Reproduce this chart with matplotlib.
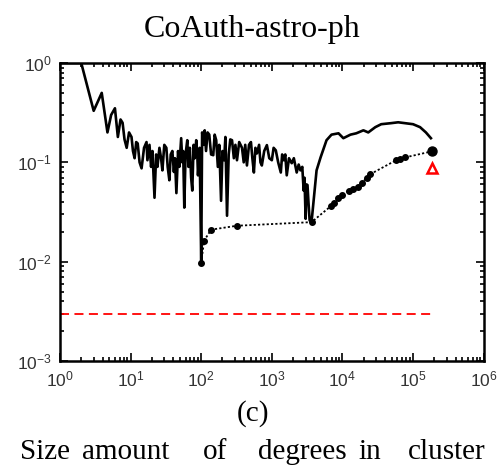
import matplotlib.pyplot as plt
import numpy as np
from matplotlib.ticker import FixedLocator, FuncFormatter, NullFormatter

plt.rcParams['font.family'] = ['Liberation Sans', 'DejaVu Sans']
plt.rcParams['mathtext.default'] = 'regular'

# solid curve (noisy)
size_solid = [1, 2.0, 3.0, 3.9, 4.7, 5.3, 6.0, 6.6, 7.2, 7.7, 8.2, 8.8, 9.5,
              10.3, 10.8, 11.4, 12.0, 12.6, 13.4, 14.3, 15.5, 16.8, 17.3, 18.5, 19.5,
              20.4, 21.8, 23, 24, 25.6, 27, 28.2, 30, 32.1, 33.5, 35.4, 37, 39, 41, 42.5,
              44.5, 47, 49, 52, 54, 55.5, 57.6, 60, 63.5, 66, 69, 72, 74.7, 78, 81, 85, 88,
              90, 95, 100,
              103, 108, 112, 117, 123, 130, 138, 148, 155, 163, 172, 180, 191, 200, 211, 220,
              232, 245, 258, 273, 290, 305, 321, 345, 378, 400, 420, 444, 475, 506, 530, 557,
              585, 615, 660, 690, 722, 780, 851, 920, 1000,
              1060, 1138, 1230, 1340, 1400, 1476, 1550, 1626, 1750, 1914, 2050, 2250, 2400,
              2540, 2700, 2822, 2900, 3010, 3100, 3200, 3300, 3430, 3650,
              4035, 4300, 4900, 5950, 7000, 8790, 10300, 13000, 15700,
              19800, 23200, 29200, 35400, 49000, 61500, 77000, 100000, 125600, 152000, 179000]
frac_solid = [1, 1.0, 0.33, 0.50, 0.20, 0.30, 0.35, 0.18, 0.27, 0.25, 0.17, 0.14, 0.20,
              0.18, 0.13, 0.11, 0.16, 0.155, 0.10, 0.087, 0.14, 0.16, 0.105, 0.15, 0.09,
              0.13, 0.044, 0.12, 0.09, 0.14, 0.11, 0.083, 0.15, 0.14, 0.09, 0.066, 0.12, 0.13, 0.08, 0.11,
              0.049, 0.13, 0.09, 0.175, 0.10, 0.13, 0.035, 0.12, 0.167, 0.09, 0.14, 0.07, 0.052, 0.15, 0.11, 0.167, 0.12,
              0.074, 0.14, 0.01,
              0.20, 0.15, 0.21, 0.13, 0.20, 0.19, 0.12, 0.118, 0.19, 0.167, 0.09, 0.15, 0.041, 0.13, 0.105, 0.18,
              0.029, 0.12, 0.17, 0.167, 0.11, 0.15, 0.105, 0.16, 0.14, 0.10, 0.15, 0.093, 0.15, 0.16, 0.11, 0.079,
              0.14, 0.123, 0.15, 0.10, 0.093, 0.13, 0.149, 0.11, 0.105,
              0.14, 0.132, 0.10, 0.079, 0.12, 0.105, 0.12, 0.074, 0.11, 0.098, 0.11, 0.079, 0.095,
              0.083, 0.09, 0.052, 0.07, 0.027, 0.06, 0.059, 0.04, 0.026, 0.025,
              0.052, 0.083, 0.112, 0.167, 0.19, 0.196, 0.175, 0.19, 0.196,
              0.21, 0.20, 0.226, 0.242, 0.248, 0.253, 0.248, 0.242, 0.226, 0.20, 0.175]

# dotted curve with points
size_dot = [100, 110, 138, 321, 3650, 6780, 7500, 8790, 10000, 12200, 14000, 16800,
            19000, 22000, 24800, 57600, 65000, 77000, 185000]
frac_dot = [0.0098, 0.0163, 0.021, 0.023, 0.025, 0.036, 0.039, 0.044, 0.047, 0.052, 0.054, 0.057,
            0.062, 0.070, 0.076, 0.105, 0.108, 0.112, 0.129]

# red triangle and baseline
tri_size, tri_frac = [185000], [0.087]
base_size = [1, 190000]
base_frac = [0.003, 0.003]

x_ticks = [1e0, 1e1, 1e2, 1e3, 1e4, 1e5, 1e6]
y_ticks = [1e-3, 1e-2, 1e-1, 1e0]

fig = plt.figure(figsize=(5.02, 4.68), dpi=100)
ax = fig.add_axes([0.1195, 0.2286, 0.844, 0.6368])

ax.plot(size_solid, frac_solid, color='black', lw=1.9)
ax.plot(size_dot, frac_dot, color='black', lw=1.3, ls=(0, (1.2, 1.2)), marker='o', ms=4)
ax.plot(size_dot[-1:], frac_dot[-1:], 'o', color='black', ms=6.5)
ax.plot(tri_size, tri_frac, '^', mfc='none', mec='red', mew=1.8, ms=6.5)
ax.plot(base_size, base_frac, color='red', lw=1.3, ls=(0, (5, 3)))

ax.set_xscale('log')
ax.set_yscale('log')
ax.set_xlim(1, 1e6)
ax.set_ylim(1e-3, 1)
ax.xaxis.set_major_locator(FixedLocator(x_ticks))
ax.yaxis.set_major_locator(FixedLocator(y_ticks))
x_minor = [m * t for t in x_ticks[:-1] for m in range(2, 10)]
y_minor = [m * t for t in y_ticks[:-1] for m in range(2, 10)]
ax.xaxis.set_minor_locator(FixedLocator(x_minor))
ax.yaxis.set_minor_locator(FixedLocator(y_minor))
fmt = FuncFormatter(lambda v, p: r'$10^{%d}$' % round(np.log10(v)))
ax.xaxis.set_major_formatter(fmt)
ax.yaxis.set_major_formatter(fmt)
ax.xaxis.set_minor_formatter(NullFormatter())
ax.yaxis.set_minor_formatter(NullFormatter())
ax.tick_params(which='both', direction='in', top=True, right=True, width=1.2)
ax.tick_params(which='major', length=6, labelsize=12.5, pad=6, labelcolor='#333333')
ax.tick_params(which='minor', length=3)
for s in ax.spines.values():
    s.set_linewidth(1.8)

serif = 'Liberation Serif'
fig.text(252 / 502, 1 - 37 / 468, 'CoAuth-astro-ph', ha='center', va='baseline',
         family=serif, fontsize=23)
fig.text(253 / 502, 1 - 421 / 468, '(c)', ha='center', va='baseline', family=serif, fontsize=21)
words = ['Size', 'amount', 'of', 'degrees', 'in', 'cluster']
word_x = [20, 82, 203, 258, 358, 408]
for w, px in zip(words, word_x):
    fig.text(px / 502, 1 - 459 / 468, w, ha='left', va='baseline', family=serif, fontsize=21)

fig.savefig('out.png', dpi=100)
